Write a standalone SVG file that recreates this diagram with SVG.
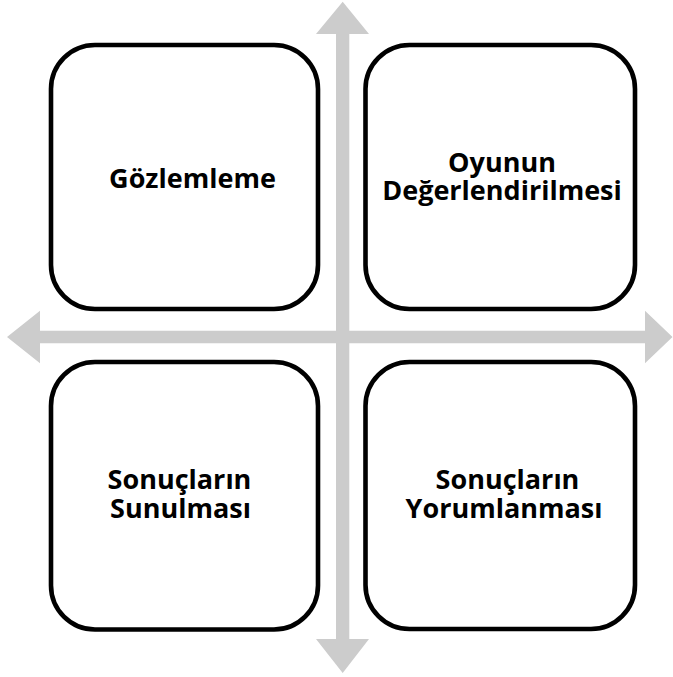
<svg xmlns="http://www.w3.org/2000/svg" width="673" height="677" viewBox="0 0 673 677">
  <style>
    .box { fill: #ffffff; stroke: #000000; stroke-width: 4.6; }
    .arrow { fill: #cccccc; stroke: none; }
    .label { font-family: "Open Sans", "Liberation Sans", sans-serif; font-weight: bold; font-size: 27px; fill: #000000; text-anchor: middle; }
  </style>
  <rect width="673" height="677" fill="#ffffff"/>
  <g id="connectors">
    <polygon class="arrow" points="342.7,1.7 369,34 349.3,34 349.3,639 369,639 342.7,673 316,639 336,639 336,34 316,34"/>
    <polygon class="arrow" points="7,337 40,310.7 40,330.7 645,330.7 645,310.7 672.5,337 645,363.3 645,343.3 40,343.3 40,363.3"/>
  </g>
  <g id="node-gozlemleme">
    <rect class="box" x="51" y="45" width="267" height="264" rx="44" ry="44"/>
    <text class="label" x="192.5" y="187.5">Gözlemleme</text>
  </g>
  <g id="node-oyunun-degerlendirilmesi">
    <rect class="box" x="365.5" y="45" width="269.5" height="264" rx="44" ry="44"/>
    <text class="label" x="502" y="171.5">Oyunun</text>
    <text class="label" x="502" y="199.5">Değerlendirilmesi</text>
  </g>
  <g id="node-sonuclarin-sunulmasi">
    <rect class="box" x="51" y="362" width="267" height="267.5" rx="44" ry="44"/>
    <text class="label" x="179.5" y="489">Sonuçların</text>
    <text class="label" x="180.5" y="517.5">Sunulması</text>
  </g>
  <g id="node-sonuclarin-yorumlanmasi">
    <rect class="box" x="365.5" y="362" width="269.5" height="267" rx="44" ry="44"/>
    <text class="label" x="507.5" y="489">Sonuçların</text>
    <text class="label" x="504" y="517.5">Yorumlanması</text>
  </g>
</svg>
